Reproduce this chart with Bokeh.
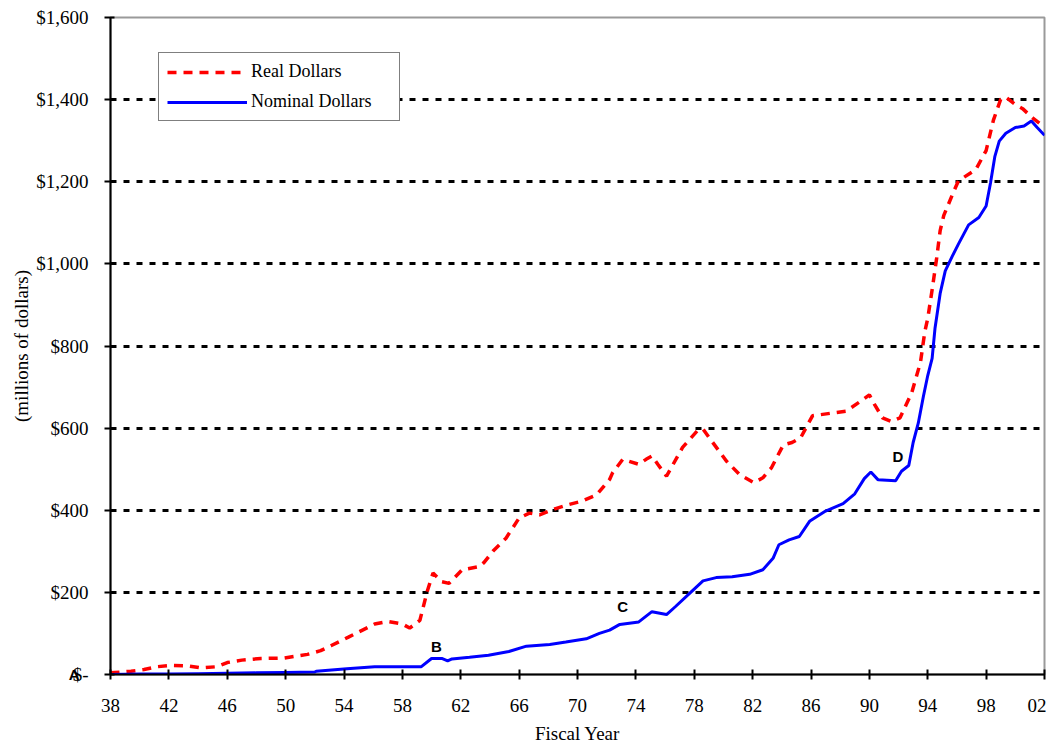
from bokeh.plotting import figure
from bokeh.models import (Range1d, FixedTicker, Legend, LegendItem, Label, LinearAxis, Title)
from bokeh.embed import file_html
from bokeh.resources import INLINE

# ---- data (fiscal year, millions of dollars) ----
real_years = [38.0, 39.4, 40.3, 41.2, 42.1, 43.3, 44.2, 45.3, 46.0, 47.0, 48.3, 49.9,
              50.6, 51.5, 52.4, 53.1, 54.3, 55.2, 56.1, 57.0, 58.0, 58.5, 59.2, 59.7,
              60.1, 60.7, 61.2, 62.1, 63.3, 63.6, 64.2, 65.1, 66.0, 66.7, 67.4, 68.5,
              69.4, 70.3, 71.3, 72.2, 72.4, 73.1, 74.2, 74.7, 75.1, 75.5, 76.1, 77.2,
              78.2, 78.6, 79.1, 80.2, 81.1, 82.1, 82.7, 83.3, 84.1, 84.7, 85.3, 86.1,
              87.3, 88.4, 89.3, 90.0, 90.35, 90.9, 91.5, 92.1, 92.9, 93.5, 93.8, 94.0,
              94.3, 94.6, 94.85, 95.1, 95.8, 96.1, 97.3, 98.0, 98.5, 99.0, 99.35, 100.0,
              100.5, 101.2, 101.7]
real_dollars = [4, 8, 12, 19, 22, 21, 16, 19, 29, 35, 39, 40,
                44, 49, 58, 70, 91, 107, 123, 129, 123, 113, 132, 202,
                247, 226, 222, 255, 263, 273, 300, 332, 381, 393, 389, 404,
                414, 422, 437, 475, 491, 524, 512, 524, 532, 512, 483, 553,
                593, 598, 573, 520, 487, 467, 479, 504, 559, 565, 577, 630,
                636, 641, 663, 681, 658, 625, 616, 625, 686, 760, 835, 867,
                937, 1011, 1081, 1118, 1178, 1202, 1230, 1276, 1350, 1401, 1406, 1388,
                1378, 1355, 1341]

nominal_years = [38.0, 40.0, 42.0, 44.0, 46.0, 48.0, 50.0, 52.0, 52.1, 54.2, 56.1, 59.3,
                 60.0, 60.7, 61.1, 61.4, 62.6, 63.9, 65.3, 66.5, 68.1, 69.2, 70.6, 71.5,
                 72.2, 72.9, 74.2, 75.1, 76.1, 76.7, 77.7, 78.6, 79.5, 80.6, 81.8, 82.7,
                 83.4, 83.8, 84.5, 85.2, 85.9, 87.0, 88.2, 89.0, 89.65, 90.1, 90.6, 91.8,
                 92.2, 92.7, 93.0, 93.35, 93.7, 94.0, 94.3, 94.5, 94.85, 95.2, 95.7, 96.1,
                 96.8, 97.5, 98.0, 98.3, 98.6, 98.9, 99.35, 100.0, 100.6, 101.1, 101.5, 102.0]
nominal_dollars = [0, 1, 1, 2, 3, 4, 5, 6, 8, 14, 19, 19,
                   39, 39, 33, 38, 42, 47, 56, 69, 73, 79, 87, 100,
                   108, 122, 128, 153, 146, 165, 198, 228, 236, 238, 244, 255,
                   283, 316, 328, 336, 373, 398, 416, 440, 477, 493, 474, 472,
                   495, 509, 565, 612, 677, 728, 770, 844, 928, 983, 1020, 1048,
                   1095, 1113, 1141, 1197, 1262, 1299, 1318, 1332, 1336, 1348, 1332, 1313]

x_ticks = list(range(38, 103, 4))
y_ticks = list(range(0, 1601, 200))
y_tick_labels = ["$-", "$200", "$400", "$600", "$800", "$1,000", "$1,200", "$1,400", "$1,600"]

ann_text = ["B", "C", "D"]
ann_year = [60.34, 73.1, 91.95]
ann_value = [68, 165, 532]
start_marker = "A"

SERIF = "Liberation Serif"

p = figure(width=1046, height=746, output_backend="svg", toolbar_location=None,
           x_range=Range1d(38, 102), y_range=Range1d(0, 1600),
           min_border_left=110, min_border_right=2, min_border_top=17, min_border_bottom=71)
p.background_fill_color = "white"
p.border_fill_color = "white"
p.outline_line_color = "#9a9a9a"
p.outline_line_width = 2

r_real = p.line(real_years, real_dollars, line_color="#FF0000", line_width=3.5, line_dash="9 7")
r_nom = p.line(nominal_years, nominal_dollars, line_color="#0000FF", line_width=3)

# axes
p.xaxis.ticker = FixedTicker(ticks=x_ticks)
p.xaxis.major_label_overrides = {t: f"{t % 100:02d}" for t in x_ticks}
p.yaxis.ticker = FixedTicker(ticks=y_ticks)
p.yaxis.major_label_overrides = {t: s for t, s in zip(y_ticks, y_tick_labels)}
for ax in (p.xaxis[0], p.yaxis[0]):
    ax.axis_line_color = "black"
    ax.axis_line_width = 2
    ax.major_tick_line_color = "black"
    ax.major_tick_line_width = 2
    ax.minor_tick_line_color = None
    ax.major_label_text_font = SERIF
    ax.major_label_text_font_size = "19px"
    ax.major_label_text_color = "black"
p.xaxis.major_tick_in = 5
p.xaxis.major_tick_out = 5
p.xaxis.major_label_standoff = 19
p.xaxis.axis_label = "Fiscal Year"
p.xaxis.axis_label_text_font = SERIF
p.xaxis.axis_label_text_font_size = "19px"
p.xaxis.axis_label_text_font_style = "normal"
p.xaxis.axis_label_text_color = "black"
p.xaxis.axis_label_standoff = 8
p.yaxis.major_tick_in = 4
p.yaxis.major_tick_out = 6
p.yaxis.major_label_standoff = 16

# start-point marker "A" drawn just left of the y axis at the zero tick
a_axis = LinearAxis(ticker=FixedTicker(ticks=[0]), major_label_overrides={0: start_marker},
                    axis_line_color=None, major_tick_line_color=None, minor_tick_line_color=None,
                    major_tick_out=0, major_tick_in=0, major_label_standoff=-46,
                    major_label_text_font="Liberation Sans", major_label_text_font_style="bold",
                    major_label_text_font_size="15px", major_label_text_color="black")
p.add_layout(a_axis, "left")

p.add_layout(Title(text="(millions of dollars)", align="center",
                   text_font=SERIF, text_font_size="19px", text_font_style="normal",
                   text_color="black", standoff=4), "left")

p.xgrid.grid_line_color = None
p.ygrid.ticker = FixedTicker(ticks=y_ticks)
p.ygrid.grid_line_color = "black"
p.ygrid.grid_line_width = 3
p.ygrid.grid_line_dash = "6 7"

# point annotations
for t, xv, yv in zip(ann_text, ann_year, ann_value):
    p.add_layout(Label(x=xv, y=yv, text=t, text_font="Liberation Sans", text_font_style="bold",
                       text_font_size="15px", text_align="center", text_baseline="middle",
                       text_color="black"))

legend = Legend(items=[LegendItem(label="Real Dollars", renderers=[r_real]),
                       LegendItem(label="Nominal Dollars", renderers=[r_nom])],
                location=(48, 553), margin=0, padding=8, spacing=9,
                glyph_width=80, glyph_height=20, label_height=20, label_width=140,
                label_standoff=4, label_text_font=SERIF, label_text_font_size="18px",
                label_text_color="black", border_line_color="black", border_line_width=1.5,
                background_fill_color="white", background_fill_alpha=1.0)
p.add_layout(legend)

open("out.html", "w").write(file_html(p, INLINE))
